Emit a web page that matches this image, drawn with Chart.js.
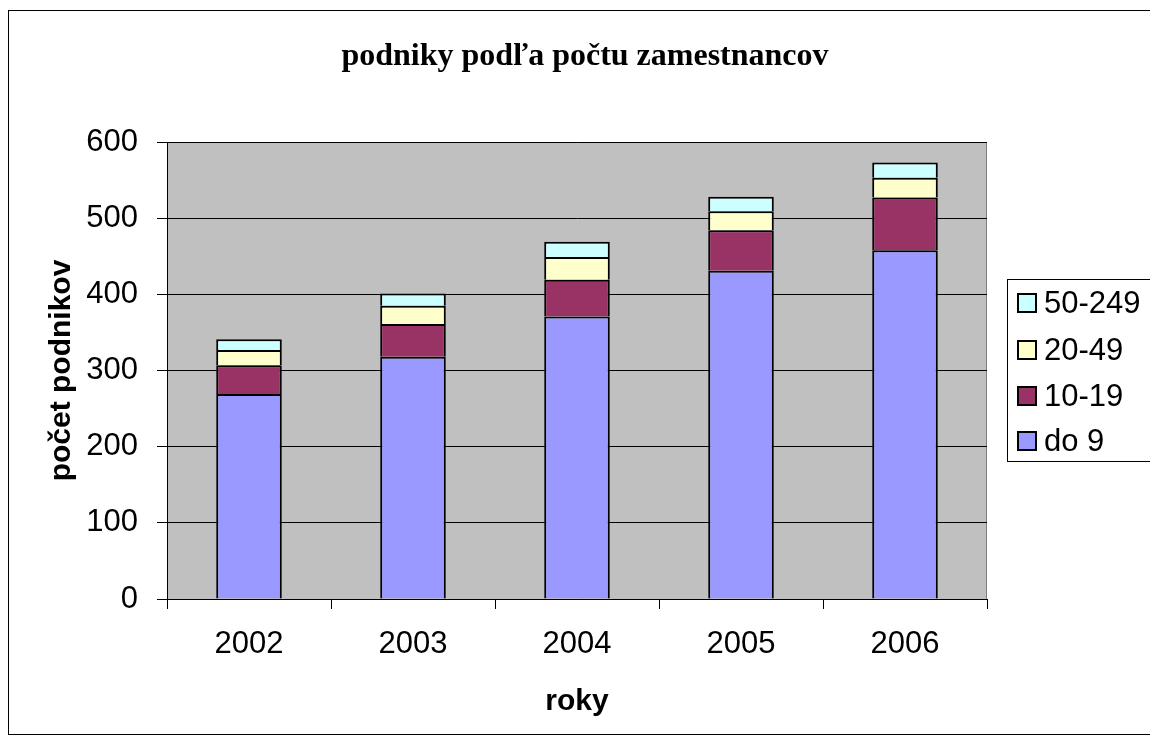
<!DOCTYPE html>
<html>
<head>
<meta charset="utf-8">
<script src="https://cdn.jsdelivr.net/npm/chart.js@4"></script>
<style>
html,body{margin:0;padding:0;background:#fff;}
canvas{display:block;}
</style>
</head>
<body>
<canvas id="c" width="1150" height="740"></canvas>
<script>
const categories = ['2002', '2003', '2004', '2005', '2006'];
const seriesLabels = ['do 9', '10-19', '20-49', '50-249'];
const doNine = [269, 318, 371, 431, 458];
const tenTo19 = [38, 43, 48, 53, 69];
const twentyTo49 = [20, 24, 30, 25, 26];
const fiftyTo249 = [14, 16, 20, 19, 20];
const seriesColors = ['#9999FF', '#993366', '#FFFFCC', '#CCFFFF'];
const chartTitle = 'podniky podľa počtu zamestnancov';
const xTitle = 'roky';
const yTitle = 'počet podnikov';

const seriesValues = [doNine, tenTo19, twentyTo49, fiftyTo249];

const decor = {
  id: 'decor',
  beforeDraw(chart) {
    const ctx = chart.ctx;
    const a = chart.chartArea;
    ctx.save();
    ctx.fillStyle = '#fff';
    ctx.fillRect(0, 0, chart.width, chart.height);
    // outer frame
    ctx.strokeStyle = '#000';
    ctx.lineWidth = 1;
    ctx.strokeRect(8.5, 10.5, 1160, 724);
    // plot area
    ctx.fillStyle = '#C0C0C0';
    ctx.fillRect(a.left, a.top, a.right - a.left, a.bottom - a.top);
    ctx.strokeStyle = '#808080';
    ctx.beginPath();
    ctx.moveTo(a.left, a.top + 0.5);
    ctx.lineTo(a.right - 0.5, a.top + 0.5);
    ctx.lineTo(a.right - 0.5, a.bottom);
    ctx.stroke();
    ctx.restore();
  },
  afterDraw(chart) {
    const ctx = chart.ctx;
    ctx.save();
    // title
    ctx.fillStyle = '#000';
    ctx.font = 'bold 32px "Liberation Serif"';
    ctx.textAlign = 'center';
    ctx.textBaseline = 'middle';
    ctx.fillText(chartTitle, 585, 57);
    // legend
    ctx.strokeStyle = '#000';
    ctx.lineWidth = 1;
    ctx.strokeRect(1007.5, 279.5, 200, 182);
    const rows = [303, 350, 396, 441];
    const ds = chart.data.datasets;
    ctx.font = '31px "Liberation Sans"';
    ctx.textAlign = 'left';
    for (let i = 0; i < ds.length; i++) {
      const d = ds[ds.length - 1 - i];
      const cy = rows[i];
      ctx.fillStyle = d.backgroundColor;
      ctx.fillRect(1017, cy - 10, 20, 20);
      ctx.lineWidth = 2;
      ctx.strokeRect(1018, cy - 9, 18, 18);
      ctx.fillStyle = '#000';
      ctx.fillText(d.label, 1044, cy + 1);
    }
    ctx.restore();
  }
};

new Chart(document.getElementById('c'), {
  type: 'bar',
  data: {
    labels: categories,
    datasets: seriesLabels.map((lab, i) => ({
      label: lab,
      data: seriesValues[i],
      backgroundColor: seriesColors[i],
      borderColor: '#000',
      borderWidth: 2,
      barPercentage: 0.4,
      categoryPercentage: 1.0
    }))
  },
  options: {
    responsive: false,
    animation: false,
    devicePixelRatio: 1,
    layout: { padding: { top: 142, right: 163, left: 0, bottom: 0 } },
    plugins: {
      legend: { display: false },
      title: { display: false },
      tooltip: { enabled: false }
    },
    scales: {
      x: {
        stacked: true,
        afterFit(s) { s.height = 141; },
        grid: { drawOnChartArea: false, drawTicks: true, tickLength: 10, color: '#000', offset: true },
        border: { display: true, color: '#000', width: 1 },
        ticks: { color: '#000', font: { family: 'Liberation Sans', size: 31 }, padding: 17 },
        title: { display: true, text: xTitle, color: '#000', font: { family: 'Liberation Sans', size: 30, weight: 'bold' }, padding: { top: 0, bottom: 20 } }
      },
      y: {
        stacked: true,
        min: 0,
        max: 600,
        afterFit(s) { s.width = 167; },
        ticks: { stepSize: 100, color: '#000', font: { family: 'Liberation Sans', size: 31 }, padding: 19 },
        grid: { color: '#000', lineWidth: 1, tickLength: 10, drawTicks: true },
        border: { display: true, color: '#000', width: 1 },
        title: { display: true, text: yTitle, color: '#000', font: { family: 'Liberation Sans', size: 30, weight: 'bold' }, padding: { top: 44, bottom: 0 } }
      }
    }
  },
  plugins: [decor]
});
</script>
</body>
</html>
